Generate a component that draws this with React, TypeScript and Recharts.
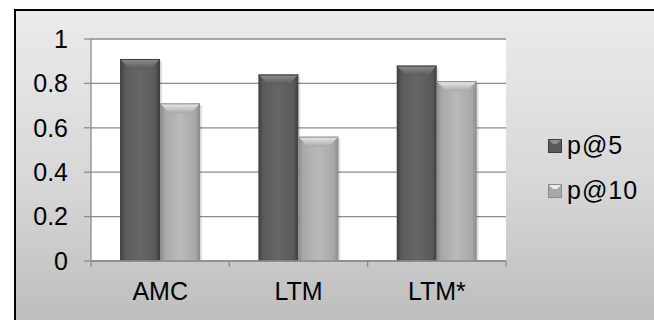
import { Bar, BarChart, CartesianGrid, Legend, XAxis, YAxis } from "recharts";

const methods = ["AMC", "LTM", "LTM*"];
const precisionAt5 = [0.91, 0.84, 0.88];
const precisionAt10 = [0.71, 0.56, 0.81];
const seriesNames = ["p@5", "p@10"];
const yTicks = [0, 0.2, 0.4, 0.6, 0.8, 1];

const rows = methods.map((m, i) => ({ method: m, p5: precisionAt5[i], p10: precisionAt10[i] }));

const FONT = "'Liberation Sans', Arial, sans-serif";

const tones: Record<string, { edge: string; body: string; top: string; hi: string }> = {
  dark: { edge: "#3c3c3c", body: "#5a5a5a", top: "#8e8e8e", hi: "#666666" },
  light: { edge: "#8a8a8a", body: "#a8a8a8", top: "#ececec", hi: "#bababa" },
};

// bar with a beveled top face, like the old office 3D look
function BevelBar(props: any) {
  const { x, y, width, height, tone } = props;
  if (!height || height <= 0) return null;
  const b = Math.min(10, height);
  const c = tones[tone];
  return (
    <g>
      <rect x={x + 2} y={y + 2} width={width} height={height - 2} fill="rgba(0,0,0,0.12)" />
      <rect x={x} y={y} width={width} height={height} fill={`url(#body-${tone})`} />
      <polygon
        points={`${x},${y} ${x + width},${y} ${x + width - b},${y + b} ${x + b},${y + b}`}
        fill={`url(#top-${tone})`}
      />
      <line x1={x} y1={y + 0.5} x2={x + width} y2={y + 0.5} stroke={c.edge} strokeWidth={1} />
    </g>
  );
}

function CategoryTick(props: any) {
  const { x, y, payload, index, width, visibleTicksCount } = props;
  const half = payload?.offset ?? width / visibleTicksCount / 2;
  return (
    <g>
      <line x1={x - half} y1={y} x2={x - half} y2={y + 6} stroke="#8c8c8c" strokeWidth={1.3} />
      {index === visibleTicksCount - 1 && (
        <line x1={x + half} y1={y} x2={x + half} y2={y + 6} stroke="#8c8c8c" strokeWidth={1.3} />
      )}
      <text x={x} y={y + 39} textAnchor="middle" fontSize={25} fontFamily={FONT} fill="#000">
        {payload.value}
      </text>
    </g>
  );
}

function LegendIcon({ tone }: { tone: string }) {
  const c = tones[tone];
  return (
    <svg width={14} height={14} style={{ display: "block" }}>
      <rect x={0} y={0} width={14} height={14} fill={c.body} />
      <polygon points="0,0 14,0 9,5 5,5" fill={c.top} />
      <rect x={0.5} y={0.5} width={13} height={13} fill="none" stroke={c.edge} />
    </svg>
  );
}

function SeriesLegend() {
  const toneOf = ["dark", "light"];
  return (
    <div style={{ fontFamily: FONT }}>
      {seriesNames.map((name, i) => (
        <div key={name} style={{ display: "flex", alignItems: "center", height: 45 }}>
          <LegendIcon tone={toneOf[i]} />
          <span style={{ marginLeft: 5, fontSize: 25, letterSpacing: 1, lineHeight: "45px", color: "#000" }}>{name}</span>
        </div>
      ))}
    </div>
  );
}

export default function App() {
  return (
    <div style={{ position: "fixed", left: 0, top: 0, width: 654, height: 320, overflow: "hidden", background: "#fff" }}>
      <div
        style={{
          position: "absolute",
          left: 14,
          top: 9,
          width: 700,
          height: 360,
          boxSizing: "border-box",
          borderLeft: "2px solid #000",
          borderTop: "2px solid #000",
          background: "linear-gradient(to bottom, #ebebeb 0px, #d6d6d6 180px, #bdbdbd 311px)",
        }}
      />
      <div style={{ position: "absolute", left: 0, top: 0 }}>
        <BarChart
          width={654}
          height={320}
          data={rows}
          margin={{ top: 39, right: 48, bottom: 19, left: 14 }}
          barCategoryGap="21%"
          barGap={0}
        >
          <defs>
            {Object.entries(tones).map(([k, c]) => (
              <linearGradient key={`b${k}`} id={`body-${k}`} x1="0" y1="0" x2="1" y2="0">
                <stop offset="0%" stopColor={c.edge} />
                <stop offset="12%" stopColor={c.body} />
                <stop offset="50%" stopColor={c.hi} />
                <stop offset="88%" stopColor={c.body} />
                <stop offset="100%" stopColor={c.edge} />
              </linearGradient>
            ))}
            {Object.entries(tones).map(([k, c]) => (
              <linearGradient key={`t${k}`} id={`top-${k}`} x1="0" y1="0" x2="0" y2="1">
                <stop offset="0%" stopColor={c.top} />
                <stop offset="100%" stopColor={c.body} />
              </linearGradient>
            ))}
          </defs>
          <CartesianGrid vertical={false} stroke="#8c8c8c" strokeWidth={1.3} fill="#fff" />
          <XAxis
            dataKey="method"
            height={40}
            axisLine={{ stroke: "#8c8c8c", strokeWidth: 1.3 }}
            tickLine={false}
            tickSize={0}
            tickMargin={0}
            interval={0}
            tick={<CategoryTick />}
          />
          <YAxis
            width={77}
            domain={[0, 1]}
            ticks={yTicks}
            axisLine={{ stroke: "#8c8c8c", strokeWidth: 1.3 }}
            tickLine={{ stroke: "#8c8c8c", strokeWidth: 1.3 }}
            tickSize={7}
            tickMargin={16}
            tick={{ fontSize: 25, fontFamily: FONT, fill: "#000" }}
            tickFormatter={(v: number) => String(v)}
          />
          <Legend
            layout="vertical"
            align="right"
            verticalAlign="middle"
            content={<SeriesLegend />}
            wrapperStyle={{ left: 548, top: 123, width: 100 }}
          />
          <Bar dataKey="p5" name={seriesNames[0]} fill={tones.dark.body} isAnimationActive={false} shape={(p: any) => <BevelBar {...p} tone="dark" />} />
          <Bar dataKey="p10" name={seriesNames[1]} fill={tones.light.body} isAnimationActive={false} shape={(p: any) => <BevelBar {...p} tone="light" />} />
        </BarChart>
      </div>
    </div>
  );
}
